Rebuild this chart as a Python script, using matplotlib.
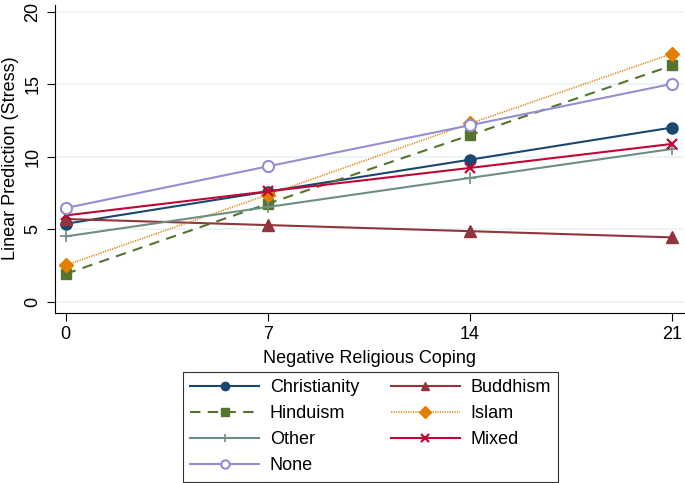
import matplotlib.pyplot as plt

plt.rcParams['font.family'] = ['Liberation Sans', 'DejaVu Sans']

# x values: negative religious coping score
coping = [0, 7, 14, 21]

christianity = [5.37, 7.60, 9.80, 12.02]
buddhism = [5.70, 5.28, 4.86, 4.43]
hinduism = [1.91, 6.76, 11.49, 16.31]
islam = [2.51, 7.38, 12.30, 17.12]
other = [4.50, 6.53, 8.54, 10.54]
mixed = [5.95, 7.61, 9.23, 10.89]
none = [6.46, 9.34, 12.18, 15.04]

fig = plt.figure(figsize=(6.85, 4.83), dpi=100)
ax = fig.add_axes([0.080, 0.353, 0.918, 0.637])

lw = 1.5
ax.plot(coping, christianity, color='#1a476f', marker='o', ms=8, lw=lw, label='Christianity')
ax.plot(coping, buddhism, color='#90353b', marker='^', ms=8, lw=lw, label='Buddhism')
ax.plot(coping, hinduism, color='#55752f', marker='s', ms=7.5, lw=lw, ls=(0, (5, 3.5)), label='Hinduism')
ax.plot(coping, islam, color='#e37e00', marker='D', ms=7.5, lw=1.1, ls=(0, (0.8, 0.8)), label='Islam')
ax.plot(coping, other, color='#6e8e84', marker='+', ms=8, mew=1.2, lw=lw, label='Other')
ax.plot(coping, mixed, color='#c10534', marker='x', ms=7, mew=1.6, lw=lw, label='Mixed')
ax.plot(coping, none, color='#938dd2', marker='o', ms=8, mfc='white', mew=1.5, lw=lw, label='None')

ax.set_xlim(-0.38, 21.4)
ax.set_ylim(-0.76, 20.5)
ax.set_xticks(coping)
ax.set_yticks([0, 5, 10, 15, 20])
ax.grid(axis='y', color='#eaf2f3', lw=1.2)
ax.set_axisbelow(True)
for s in ['top', 'right']:
    ax.spines[s].set_visible(False)
ax.spines['left'].set_color('black')
ax.spines['bottom'].set_color('black')
ax.tick_params(axis='both', labelsize=13, length=6, color='black')
plt.setp(ax.get_yticklabels(), rotation=90, va='center')
ax.set_xlabel('Negative Religious Coping', fontsize=13, labelpad=5)
ax.set_ylabel('Linear Prediction (Stress)', fontsize=13)

h, l = ax.get_legend_handles_labels()
order = [0, 2, 4, 6, 1, 3, 5]
leg = fig.legend([h[i] for i in order], [l[i] for i in order], ncol=2,
                 loc='lower left', bbox_to_anchor=(183 / 685, 0.003, 375 / 685, 109 / 483),
                 mode='expand', fontsize=13, frameon=True, fancybox=False,
                 edgecolor='black', handlelength=3.8, handletextpad=0.6,
                 labelspacing=0.5, columnspacing=1.2, borderaxespad=0.0,
                 borderpad=0.4, markerscale=0.75)
leg.get_frame().set_linewidth(0.8)

fig.savefig('out.png', dpi=100)
